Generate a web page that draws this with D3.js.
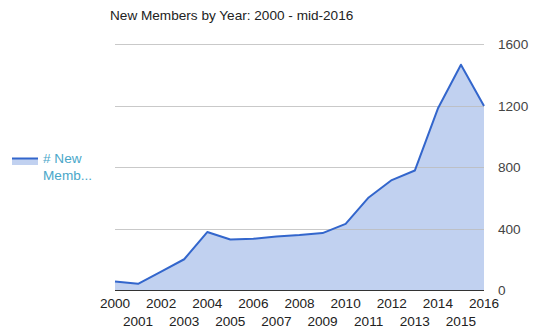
<!DOCTYPE html>
<html>
<head>
<meta charset="utf-8">
<script src="https://cdn.jsdelivr.net/npm/d3@7"></script>
<style>
  html, body { margin: 0; padding: 0; background: #fff; }
  svg { display: block; font-family: Arial, "Liberation Sans", Helvetica, sans-serif; }
</style>
</head>
<body>
<svg id="chart" width="541" height="335"></svg>
<script>
// data
var years = [2000, 2001, 2002, 2003, 2004, 2005, 2006, 2007, 2008,
  2009, 2010, 2011, 2012, 2013, 2014, 2015, 2016];
var newMembers = [55, 40, 120, 200, 377, 328, 333, 348, 357,
  370, 430, 602, 715, 777, 1180, 1465, 1197];
var yTicks = [0, 400, 800, 1200, 1600];
var seriesName = "# New Members";

var svg = d3.select("#chart"),
  margin = { top: 44, right: 57, bottom: 45, left: 115 },
  width = 541 - margin.left - margin.right,
  height = 335 - margin.top - margin.bottom,
  lineColor = "#3366cc",
  fontSize = 13.6;

var data = years.map(function(y, i) {
  return { year: y, value: newMembers[i] };
});

var x = d3.scaleLinear()
  .domain([2000, 2016])
  .range([margin.left, margin.left + width]);

var y = d3.scaleLinear()
  .domain([0, 1600])
  .range([margin.top + height, margin.top]);

// title
svg.append("text")
  .attr("x", 110)
  .attr("y", 20)
  .attr("font-size", fontSize)
  .attr("fill", "#222")
  .text("New Members by Year: 2000 - mid-2016");

// area + line
var area = d3.area()
  .x(function(d) { return x(d.year); })
  .y0(y(0))
  .y1(function(d) { return y(d.value); });

var line = d3.line()
  .x(function(d) { return x(d.year); })
  .y(function(d) { return y(d.value); });

svg.append("path")
  .datum(data)
  .attr("d", area)
  .attr("fill", lineColor)
  .attr("fill-opacity", 0.3);

// gridlines (drawn over the fill, like the original)
svg.append("g")
  .selectAll("line")
  .data(yTicks.filter(function(d) { return d > 0; }))
  .enter().append("line")
  .attr("x1", x(2000))
  .attr("x2", x(2016))
  .attr("y1", function(d) { return Math.round(y(d)) + 0.5; })
  .attr("y2", function(d) { return Math.round(y(d)) + 0.5; })
  .attr("stroke", "#bbbbbb")
  .attr("stroke-opacity", 0.8)
  .attr("stroke-width", 1);

svg.append("path")
  .datum(data)
  .attr("d", line)
  .attr("fill", "none")
  .attr("stroke", lineColor)
  .attr("stroke-width", 2)
  .attr("stroke-linejoin", "round");

// baseline
svg.append("line")
  .attr("x1", x(2000))
  .attr("x2", x(2016))
  .attr("y1", y(0) + 0.5)
  .attr("y2", y(0) + 0.5)
  .attr("stroke", "#333")
  .attr("stroke-width", 1.2);

// right y axis labels
svg.append("g")
  .selectAll("text")
  .data(yTicks)
  .enter().append("text")
  .attr("x", 498)
  .attr("y", function(d) { return y(d) + 5; })
  .attr("font-size", fontSize)
  .attr("fill", "#444")
  .text(function(d) { return d; });

// x axis labels, two staggered rows
svg.append("g")
  .selectAll("text")
  .data(years)
  .enter().append("text")
  .attr("x", function(d) { return x(d); })
  .attr("y", function(d) { return d % 2 === 0 ? 308 : 326; })
  .attr("text-anchor", "middle")
  .attr("font-size", fontSize)
  .attr("fill", "#222")
  .text(function(d) { return d; });

// legend
var legend = svg.append("g");
legend.append("rect")
  .attr("x", 12).attr("y", 158)
  .attr("width", 26).attr("height", 7)
  .attr("fill", lineColor)
  .attr("fill-opacity", 0.3);
legend.append("line")
  .attr("x1", 12).attr("x2", 38)
  .attr("y1", 158.5).attr("y2", 158.5)
  .attr("stroke", lineColor)
  .attr("stroke-width", 2);
legend.append("text")
  .attr("x", 43).attr("y", 163)
  .attr("font-size", fontSize)
  .attr("fill", "#4aa7c9")
  .text(seriesName.slice(0, 5));
legend.append("text")
  .attr("x", 43).attr("y", 180)
  .attr("font-size", fontSize)
  .attr("fill", "#4aa7c9")
  .text(seriesName.slice(6, 10) + "...");
</script>
</body>
</html>
